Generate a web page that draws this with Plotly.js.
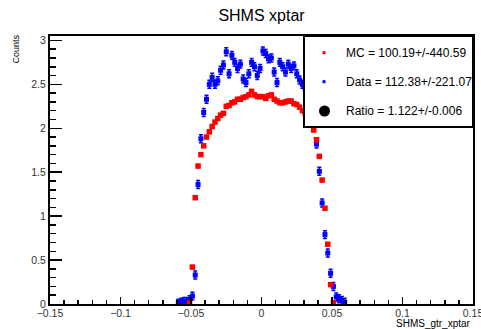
<!DOCTYPE html>
<html>
<head>
<meta charset="utf-8">
<script src="https://cdn.plot.ly/plotly-3.0.1.min.js"></script>
<style>html,body{margin:0;padding:0;background:#fff;}#chart{width:481px;height:329px;}</style>
</head>
<body>
<div id="chart"></div>
<script>
// Bin centres of SHMS_gtr_xptar (bin width 0.002)
const xBins = [-0.059,-0.057,-0.055,-0.053,-0.051,-0.049,-0.047,-0.045,-0.043,-0.041,
  -0.039,-0.037,-0.035,-0.033,-0.031,-0.029,-0.027,-0.025,-0.023,-0.021,
  -0.019,-0.017,-0.015,-0.013,-0.011,-0.009,-0.007,-0.005,-0.003,-0.001,
  0.001,0.003,0.005,0.007,0.009,0.011,0.013,0.015,0.017,0.019,
  0.021,0.023,0.025,0.027,0.029,0.031,0.033,0.035,0.037,0.039,
  0.041,0.043,0.045,0.047,0.049,0.051,0.053,0.055,0.057,0.059];

// MC counts (red)
const mcCounts = [null,null,null,null,0.01,0.42,1.21,1.57,1.70,1.80,
  1.90,1.96,2.02,2.07,2.11,2.15,2.17,2.25,2.26,2.29,
  2.30,2.33,2.33,2.35,2.36,2.38,2.42,2.38,2.36,2.36,
  2.36,2.34,2.37,2.38,2.33,2.31,2.29,2.29,2.30,2.31,
  2.31,2.28,2.27,2.24,2.20,2.17,2.14,2.09,1.98,1.87,
  1.68,1.41,1.09,0.68,0.22,0.015,null,null,null,null];

// Data counts (blue)
const dataCounts = [0.01,0.02,0.03,0.03,0.05,0.09,0.33,1.36,1.88,2.18,
  2.33,2.50,2.58,2.50,2.54,2.66,2.72,2.87,2.62,2.83,
  2.75,2.68,2.73,2.56,2.52,2.62,2.75,2.70,2.60,2.68,
  2.88,2.85,2.79,2.80,2.64,2.52,2.75,2.70,2.64,2.73,
  2.68,2.71,2.62,2.55,2.50,2.45,2.36,2.25,2.08,1.82,
  1.51,1.15,0.79,0.58,0.35,0.20,0.08,0.06,0.04,0.02];

// Axis tick labels
const xTickVals = [-0.15, -0.1, -0.05, 0, 0.05, 0.1, 0.15];
const xTickText = ["\u22120.15", "\u22120.1", "\u22120.05", "0", "0.05", "0.1", "0.15"];
const yTickVals = [0, 0.5, 1, 1.5, 2, 2.5, 3];
const yTickText = ["0", "0.5", "1", "1.5", "2", "2.5", "3"];

const legendLabels = ["MC = 100.19+/-440.59", "Data = 112.38+/-221.07", "Ratio = 1.122+/-0.006"];
const legendColors = ["#ff0000", "#0000ff", "#000000"];

const FONT = "Liberation Sans, Arial, Helvetica, sans-serif";

// plot area geometry in pixels (for layout helpers only)
const PL = 50, PR = 473, PT = 36, PB = 304;
const px = (x) => (x - PL) / (PR - PL);
const py = (y) => (PB - y) / (PB - PT);

const traces = [
  {
    x: xBins, y: dataCounts, type: "scatter", mode: "markers",
    marker: {symbol: "square", size: 5, color: "#0000ff"},
    error_y: {type: "constant", value: 0.045, color: "#0000ff", thickness: 1.5, width: 2},
    showlegend: false, hoverinfo: "x+y"
  },
  {
    x: xBins, y: mcCounts, type: "scatter", mode: "markers",
    marker: {symbol: "square", size: 5.5, color: "#ff0000"},
    error_y: {type: "constant", value: 0.02, color: "#ff0000", thickness: 1, width: 1},
    showlegend: false, hoverinfo: "x+y"
  }
];

const rowsY = [52.7, 81.7, 111];
const shapes = [
  {type: "rect", xref: "paper", yref: "paper", x0: px(304), x1: 1, y0: py(127), y1: 1,
   line: {color: "#000", width: 2}, fillcolor: "#fff", layer: "above"},
  {type: "rect", xref: "paper", yref: "paper", x0: px(322.5), x1: px(325.5), y0: py(rowsY[0]+1.5), y1: py(rowsY[0]-1.5),
   line: {width: 0}, fillcolor: legendColors[0], layer: "above"},
  {type: "rect", xref: "paper", yref: "paper", x0: px(322.5), x1: px(325.5), y0: py(rowsY[1]+1.5), y1: py(rowsY[1]-1.5),
   line: {width: 0}, fillcolor: legendColors[1], layer: "above"},
  {type: "circle", xref: "paper", yref: "paper", x0: px(319), x1: px(330), y0: py(rowsY[2]+5.5), y1: py(rowsY[2]-5.5),
   line: {width: 0}, fillcolor: legendColors[2], layer: "above"}
];

const annotations = legendLabels.map((t, i) => ({
  text: t, xref: "paper", yref: "paper", x: px(344), y: py(rowsY[i]),
  xanchor: "left", yanchor: "middle", showarrow: false,
  font: {family: FONT, size: 12, color: "#000"}
}));
annotations.push({
  text: "SHMS_gtr_xptar", xref: "paper", yref: "paper", x: 1, y: py(323.5),
  xanchor: "right", yanchor: "middle", showarrow: false,
  font: {family: FONT, size: 10, color: "#000"}
});
annotations.push({
  text: "Counts", xref: "paper", yref: "paper", x: px(15), y: py(49.5),
  xanchor: "center", yanchor: "middle", textangle: -90, showarrow: false,
  font: {family: FONT, size: 9, color: "#000"}
});

const layout = {
  width: 481, height: 329,
  margin: {l: 50, r: 8, t: 36, b: 25, pad: 0},
  paper_bgcolor: "#fff", plot_bgcolor: "#fff",
  title: {text: "SHMS xptar", font: {family: FONT, size: 16, color: "#000"},
          xref: "paper", x: 0.5, xanchor: "center", yref: "container", y: 1 - 15/329, yanchor: "middle"},
  xaxis: {
    range: [-0.15, 0.15], tickmode: "array", tickvals: xTickVals, ticktext: xTickText,
    ticks: "inside", ticklen: 7, tickwidth: 1.5, tickcolor: "#000",
    ticklabeloverflow: "allow", ticklabelstandoff: -2,
    showline: true, linewidth: 2, linecolor: "#000", mirror: true,
    showgrid: false, zeroline: false,
    tickfont: {family: FONT, size: 10.5, color: "#333"},
    minor: {tickmode: "linear", tick0: 0, dtick: 0.01, ticks: "inside", ticklen: 4, tickwidth: 1.5, tickcolor: "#000", showgrid: false}
  },
  yaxis: {
    range: [0, 3.05], tickmode: "array", tickvals: yTickVals, ticktext: yTickText,
    ticks: "inside", ticklen: 12, tickwidth: 1.5, tickcolor: "#000",
    ticklabeloverflow: "allow",
    showline: true, linewidth: 2, linecolor: "#000", mirror: true,
    showgrid: false, zeroline: false,
    tickfont: {family: FONT, size: 10.5, color: "#333"},
    minor: {tickmode: "linear", tick0: 0, dtick: 0.1, ticks: "inside", ticklen: 6, tickwidth: 1.5, tickcolor: "#000", showgrid: false}
  },
  shapes: shapes,
  annotations: annotations,
  showlegend: false
};

Plotly.newPlot("chart", traces, layout, {displayModeBar: false, staticPlot: true});
</script>
</body>
</html>
